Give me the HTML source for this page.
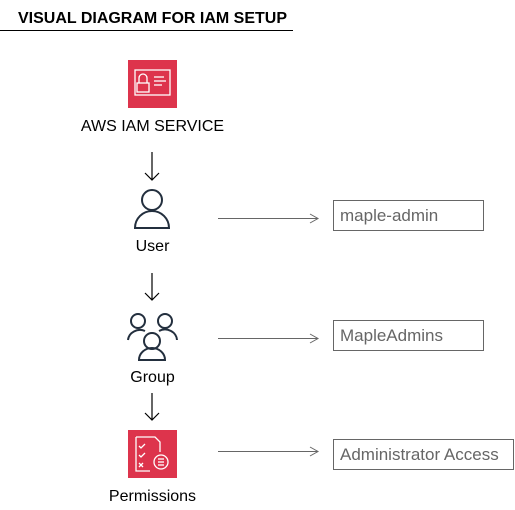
<!DOCTYPE html>
<html><head><style>body{margin:0;background:#fff}svg{display:block}</style></head><body>
<svg width="515" height="510" viewBox="0 0 515 510" xmlns="http://www.w3.org/2000/svg" font-family="Liberation Sans, Arial, sans-serif">
<text x="18" y="23" font-size="16" font-weight="bold" fill="#000" textLength="269" lengthAdjust="spacingAndGlyphs">VISUAL DIAGRAM FOR IAM SETUP</text>
<line x1="0" y1="30.5" x2="293" y2="30.5" stroke="#000" stroke-width="1"/>
<!-- IAM icon -->
<rect x="128" y="60" width="49" height="48" fill="#DD344C"/>
<g stroke="#fff" stroke-width="1.3" fill="none">
<rect x="135" y="70" width="35" height="25"/>
<path d="M139 83 v-5 a4 4 0 0 1 8 0 v5"/>
<rect x="137" y="83" width="12" height="9"/>
<line x1="154" y1="77" x2="164" y2="77"/><line x1="154" y1="81" x2="166" y2="81"/><line x1="154" y1="85" x2="162" y2="85"/>
</g>
<text x="152.5" y="131" font-size="16" text-anchor="middle">AWS IAM SERVICE</text>
<!-- vertical arrows -->
<g stroke="#000" stroke-width="1.2" fill="none">
<path d="M152 152 V180 M145 173 L152 180 L159 173"/>
<path d="M152 273 V300 M145 293 L152 300 L159 293"/>
<path d="M152 393 V420 M145 413 L152 420 L159 413"/>
</g>
<!-- user -->
<g stroke="#232F3E" stroke-width="2" fill="none">
<circle cx="152" cy="200" r="10"/>
<path d="M135 228 A17 17 0 0 1 169 228 Z"/>
</g>
<text x="152.5" y="251" font-size="16" text-anchor="middle">User</text>
<!-- group -->
<g stroke="#232F3E" stroke-width="2" fill="none">
<circle cx="138" cy="321" r="7"/>
<path d="M128 340 A12 11 0 0 1 145 331"/>
<circle cx="165" cy="321" r="7"/>
<path d="M177 340 A12 11 0 0 0 159 331"/>
<circle cx="152" cy="341" r="8"/>
<path d="M139 360 A13 12 0 0 1 165 360 Z"/>
</g>
<text x="152.5" y="382" font-size="16" text-anchor="middle">Group</text>
<!-- permissions icon -->
<rect x="128" y="430" width="49" height="48" fill="#DD344C"/>
<g stroke="#fff" stroke-width="1.3" fill="none">
<path d="M136 437 H155 L160 442 V452 M136 437 V471 H150"/>
<path d="M139 446 l2 2 l4 -4 M139 455 l2 2 l4 -4 M139 463 l4 4 M143 463 l-4 4"/>
<circle cx="161" cy="462" r="7"/>
<line x1="158" y1="459" x2="164" y2="459"/><line x1="158" y1="462" x2="164" y2="462"/><line x1="158" y1="465" x2="164" y2="465"/>
</g>
<text x="152.5" y="501" font-size="16" text-anchor="middle">Permissions</text>
<!-- horizontal arrows -->
<g stroke="#666" stroke-width="1" fill="none">
<path d="M218 218.5 H318 M310 214 L318 218.5 L310 223"/>
<path d="M218 338.5 H318 M310 334 L318 338.5 L310 343"/>
<path d="M218 451.5 H318 M310 447 L318 451.5 L310 456"/>
<rect x="333.5" y="200.5" width="150" height="30"/>
<rect x="333.5" y="320.5" width="150" height="30"/>
<rect x="333.5" y="439.5" width="180" height="30"/>
</g>
<g fill="#666" font-size="17">
<text x="340" y="221">maple-admin</text>
<text x="340" y="341">MapleAdmins</text>
<text x="340" y="460">Administrator Access</text>
</g>
</svg>
</body></html>
